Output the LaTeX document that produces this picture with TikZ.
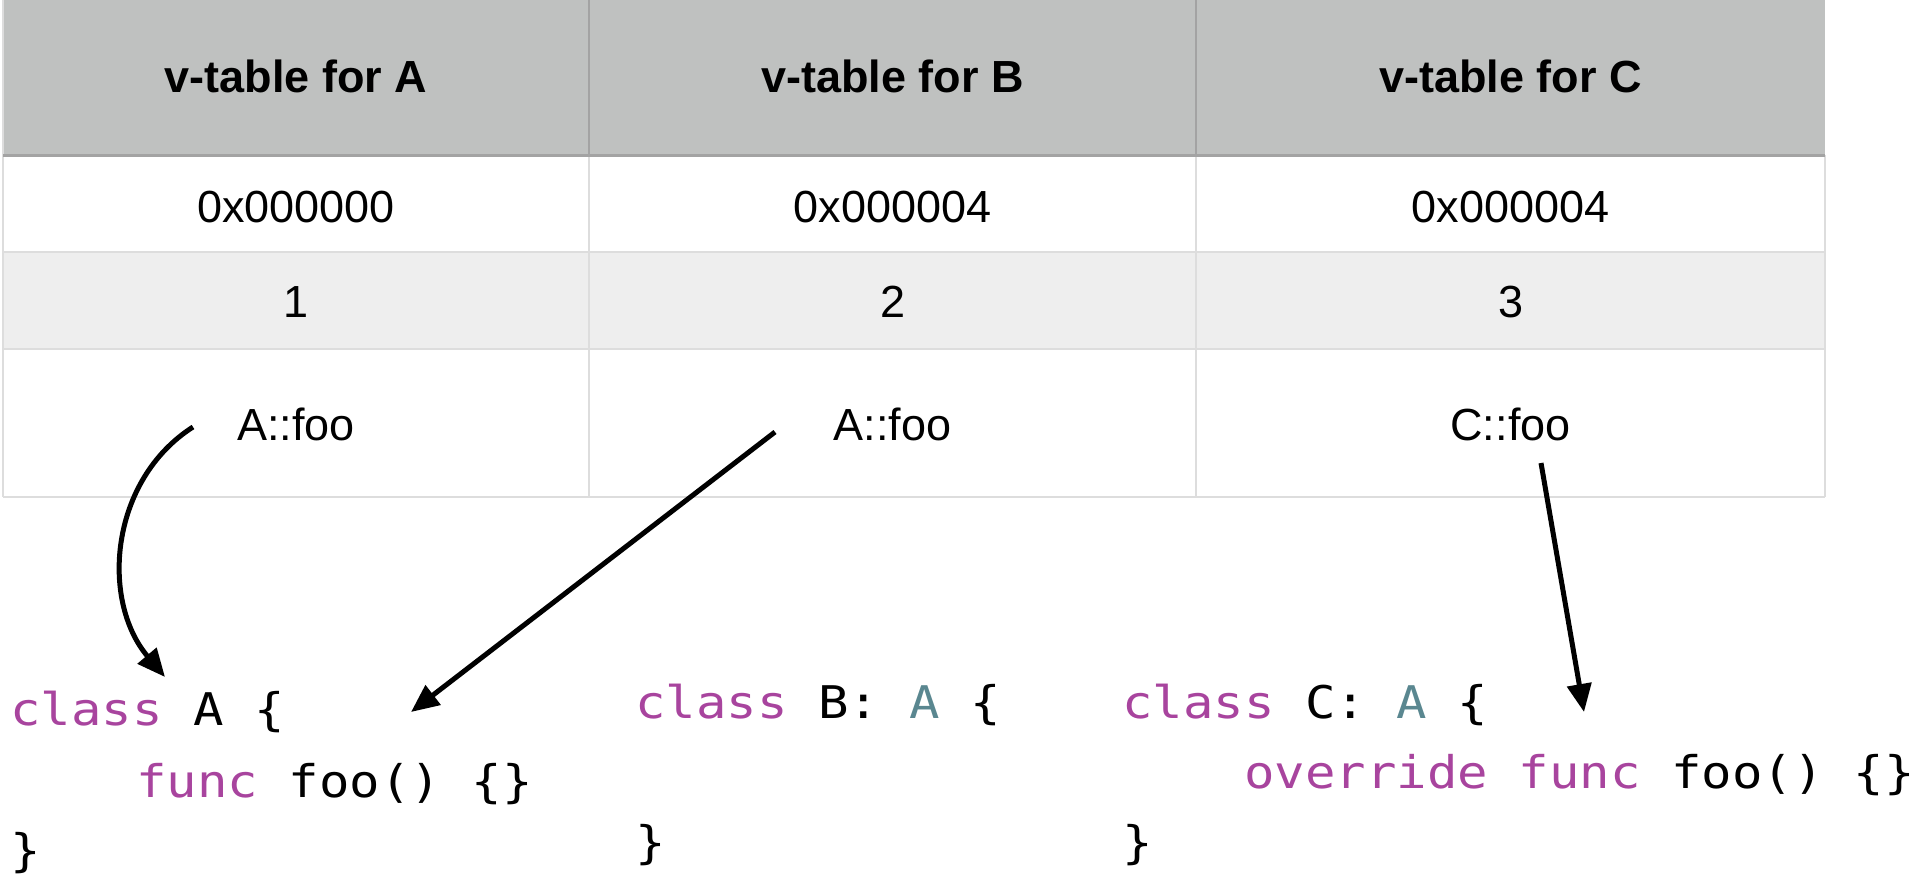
\documentclass[tikz,border=0pt]{standalone}
\usepackage{fontspec}
\usepackage{graphicx}
\setmainfont{Liberation Sans}
\newfontfamily\codefont{DejaVu Sans Mono}
\usetikzlibrary{arrows.meta}
\definecolor{hdrfill}{HTML}{BFC1C0}
\definecolor{altfill}{HTML}{EEEEEE}
\definecolor{hdrline}{HTML}{A3A3A3}
\definecolor{gridline}{HTML}{DDDDDD}
\definecolor{kw}{HTML}{A8449E}
\definecolor{ty}{HTML}{5A8790}
\newcommand\cx[1]{\scalebox{1.125}[1]{#1}}
\begin{document}
\begin{tikzpicture}[x=0.5pt,y=-0.5pt,
  cell/.style={font=\fontsize{22.5pt}{27pt}\selectfont, anchor=base, inner sep=0pt},
  hdr/.style={cell, font=\fontsize{22.5pt}{27pt}\selectfont\bfseries},
  codeline/.style={anchor=base west, inner sep=0pt, font=\fontsize{22.5pt}{27pt}\codefont},
  ptr/.style={line width=2.5pt, -{Triangle[length=14pt,width=12pt]}},
  thinline/.style={gridline, line width=1pt},
  hline/.style={hdrline, line width=0.6pt}]
\useasboundingbox (0,0) rectangle (1920,883);
% table backgrounds
\fill[hdrfill] (3,0) rectangle (1825,155.5);
\fill[altfill] (3,252) rectangle (1825,349);
% grid
\draw[thinline] (3,252) -- (1825,252);
\draw[thinline] (3,349) -- (1825,349);
\draw[thinline] (3,497) -- (1825,497);
\draw[thinline] (3,0) -- (3,497);
\draw[thinline] (589,155) -- (589,497);
\draw[thinline] (1196,155) -- (1196,497);
\draw[thinline] (1825,155) -- (1825,497);
\draw[hline] (589,0) -- (589,155);
\draw[hline] (1196,0) -- (1196,155);
\draw[hdrline, line width=1.5pt] (3,155.5) -- (1825,155.5);
% header
\node[hdr] (hA) at (296,93) {v-table for A};
\node[hdr] (hB) at (892.5,93) {v-table for B};
\node[hdr] (hC) at (1510.5,93) {v-table for C};
% rows
\node[cell] (oA) at (296,222) {0x000000};
\node[cell] (oB) at (892.5,222) {0x000004};
\node[cell] (oC) at (1510.5,222) {0x000004};
\node[cell] (nA) at (296,317) {1};
\node[cell] (nB) at (892.5,317) {2};
\node[cell] (nC) at (1510.5,317) {3};
\node[cell] (fA) at (296,440) {A::foo};
\node[cell] (fB) at (892.5,440) {A::foo};
\node[cell] (fC) at (1510.5,440) {C::foo};
% code A
\node[codeline] (cA1) at (10,725) {\cx{\textcolor{kw}{class} A \{}};
\node[codeline] (cA2) at (136,797) {\cx{\textcolor{kw}{func} foo() \{\}}};
\node[codeline] (cA3) at (10,866) {\cx{\}}};
% code B
\node[codeline] (cB1) at (635,718) {\cx{\textcolor{kw}{class} B: \textcolor{ty}{A} \{}};
\node[codeline] (cB3) at (635,858) {\cx{\}}};
% code C
\node[codeline] (cC1) at (1122,718) {\cx{\textcolor{kw}{class} C: \textcolor{ty}{A} \{}};
\node[codeline] (cC2) at (1244,788) {\cx{\textcolor{kw}{override} \textcolor{kw}{func} foo() \{\}}};
\node[codeline] (cC3) at (1122,858) {\cx{\}}};
% connectors
\coordinate (s1) at (193,427);
\coordinate (e1) at (165,677);
\coordinate (s2) at (775,432);
\coordinate (e2) at (411,712);
\coordinate (s3) at (1541,463);
\coordinate (e3) at (1584,712);
\draw[ptr] (s1) .. controls (110,480) and (100,600) .. (e1);
\draw[ptr] (s2) -- (e2);
\draw[ptr] (s3) -- (e3);
\end{tikzpicture}
\end{document}
